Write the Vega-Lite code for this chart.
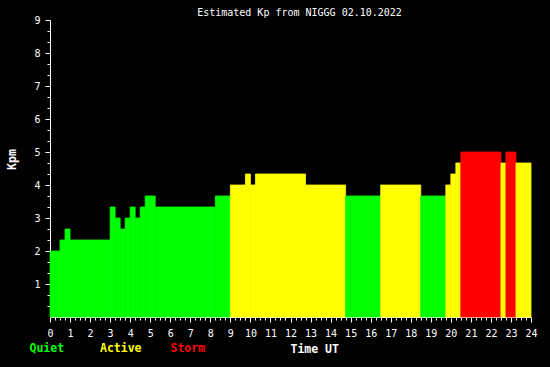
{
  "$schema": "https://vega.github.io/schema/vega-lite/v6.json",
  "autosize": {"type": "none"},
  "padding": {"left": 50, "top": 20, "right": 19, "bottom": 50},
  "width": 481,
  "height": 297,
  "background": "#000000",
  "config": {"view": {"stroke": null}},
  "title": {
    "text": "Estimated Kp from NIGGG 02.10.2022",
    "color": "#ffffff",
    "font": "DejaVu Sans Mono",
    "fontSize": 10,
    "fontWeight": "normal",
    "anchor": "middle",
    "frame": "group",
    "dx": 9,
    "dy": 5,
    "offset": -3,
    "baseline": "middle"
  },
  "data": {
    "values": [
      {"start": 0, "end": 0.5, "kp": 2.0, "level": "Quiet"},
      {"start": 0.5, "end": 0.75, "kp": 2.3333, "level": "Quiet"},
      {"start": 0.75, "end": 1.0, "kp": 2.6667, "level": "Quiet"},
      {"start": 1.0, "end": 3.0, "kp": 2.3333, "level": "Quiet"},
      {"start": 3.0, "end": 3.25, "kp": 3.3333, "level": "Quiet"},
      {"start": 3.25, "end": 3.5, "kp": 3.0, "level": "Quiet"},
      {"start": 3.5, "end": 3.75, "kp": 2.6667, "level": "Quiet"},
      {"start": 3.75, "end": 4.0, "kp": 3.0, "level": "Quiet"},
      {"start": 4.0, "end": 4.25, "kp": 3.3333, "level": "Quiet"},
      {"start": 4.25, "end": 4.5, "kp": 3.0, "level": "Quiet"},
      {"start": 4.5, "end": 4.75, "kp": 3.3333, "level": "Quiet"},
      {"start": 4.75, "end": 5.25, "kp": 3.6667, "level": "Quiet"},
      {"start": 5.25, "end": 8.25, "kp": 3.3333, "level": "Quiet"},
      {"start": 8.25, "end": 9.0, "kp": 3.6667, "level": "Quiet"},
      {"start": 9.0, "end": 9.75, "kp": 4.0, "level": "Active"},
      {"start": 9.75, "end": 10.0, "kp": 4.3333, "level": "Active"},
      {"start": 10.0, "end": 10.25, "kp": 4.0, "level": "Active"},
      {"start": 10.25, "end": 12.75, "kp": 4.3333, "level": "Active"},
      {"start": 12.75, "end": 14.75, "kp": 4.0, "level": "Active"},
      {"start": 14.75, "end": 16.5, "kp": 3.6667, "level": "Quiet"},
      {"start": 16.5, "end": 18.5, "kp": 4.0, "level": "Active"},
      {"start": 18.5, "end": 19.75, "kp": 3.6667, "level": "Quiet"},
      {"start": 19.75, "end": 20.0, "kp": 4.0, "level": "Active"},
      {"start": 20.0, "end": 20.25, "kp": 4.3333, "level": "Active"},
      {"start": 20.25, "end": 20.5, "kp": 4.6667, "level": "Active"},
      {"start": 20.5, "end": 22.5, "kp": 5.0, "level": "Storm"},
      {"start": 22.5, "end": 22.75, "kp": 4.6667, "level": "Active"},
      {"start": 22.75, "end": 23.25, "kp": 5.0, "level": "Storm"},
      {"start": 23.25, "end": 24.0, "kp": 4.6667, "level": "Active"}
    ]
  },
  "mark": {"type": "rect", "strokeWidth": 0.8},
  "encoding": {
    "x": {
      "field": "start",
      "type": "quantitative",
      "scale": {"domain": [0, 24], "nice": false, "zero": false},
      "axis": {
        "title": "Time UT",
        "titleColor": "#ffffff",
        "titleFont": "DejaVu Sans Mono",
        "titleFontSize": 11.5,
        "titleFontWeight": "bold",
        "titleAlign": "left",
        "titleBaseline": "middle",
        "titleX": 240,
        "titleY": 32,
        "values": [0,0.25,0.5,0.75,1,1.25,1.5,1.75,2,2.25,2.5,2.75,3,3.25,3.5,3.75,4,4.25,4.5,4.75,5,5.25,5.5,5.75,6,6.25,6.5,6.75,7,7.25,7.5,7.75,8,8.25,8.5,8.75,9,9.25,9.5,9.75,10,10.25,10.5,10.75,11,11.25,11.5,11.75,12,12.25,12.5,12.75,13,13.25,13.5,13.75,14,14.25,14.5,14.75,15,15.25,15.5,15.75,16,16.25,16.5,16.75,17,17.25,17.5,17.75,18,18.25,18.5,18.75,19,19.25,19.5,19.75,20,20.25,20.5,20.75,21,21.25,21.5,21.75,22,22.25,22.5,22.75,23,23.25,23.5,23.75,24],
        "labelExpr": "abs(datum.value - round(datum.value)) < 0.01 ? '' + round(datum.value) : ''",
        "labelFlush": false,
        "labelOverlap": false,
        "labelColor": "#ffffff",
        "labelFont": "DejaVu Sans Mono",
        "labelFontSize": 10,
        "labelPadding": 6,
        "domainColor": "#ffffff",
        "tickColor": "#ffffff",
        "tickSize": {"condition": {"test": "abs(datum.value - round(datum.value)) < 0.01", "value": 5}, "value": 3},
        "grid": false
      }
    },
    "x2": {"field": "end"},
    "y": {
      "field": "kp",
      "type": "quantitative",
      "scale": {"domain": [0, 9], "nice": false},
      "axis": {
        "title": "Kpm",
        "titleColor": "#ffffff",
        "titleFont": "DejaVu Sans Mono",
        "titleFontSize": 11.5,
        "titleFontWeight": "bold",
        "titleAlign": "center",
        "titleBaseline": "middle",
        "titleAngle": -90,
        "titleX": -38,
        "titleY": 139,
        "values": [0.3333,0.6667,1,1.3333,1.6667,2,2.3333,2.6667,3,3.3333,3.6667,4,4.3333,4.6667,5,5.3333,5.6667,6,6.3333,6.6667,7,7.3333,7.6667,8,8.3333,8.6667,9],
        "labelExpr": "abs(datum.value - round(datum.value)) < 0.01 ? '' + round(datum.value) : ''",
        "labelOverlap": false,
        "labelColor": "#ffffff",
        "labelFont": "DejaVu Sans Mono",
        "labelFontSize": 10,
        "labelPadding": 5,
        "domainColor": "#ffffff",
        "tickColor": "#ffffff",
        "tickSize": {"condition": {"test": "abs(datum.value - round(datum.value)) < 0.01", "value": 5}, "value": 3},
        "grid": false
      }
    },
    "y2": {"datum": 0},
    "stroke": {
      "field": "level",
      "type": "nominal",
      "scale": {"domain": ["Quiet", "Active", "Storm"], "range": ["#00ff00", "#ffff00", "#ff0000"]},
      "legend": null
    },
    "color": {
      "field": "level",
      "type": "nominal",
      "scale": {"domain": ["Quiet", "Active", "Storm"], "range": ["#00ff00", "#ffff00", "#ff0000"]},
      "legend": {
        "orient": "none",
        "legendX": -32,
        "legendY": 323,
        "direction": "horizontal",
        "columns": 3,
        "gridAlign": "all",
        "columnPadding": 16.5,
        "symbolSize": 0,
        "symbolOpacity": 0,
        "symbolStrokeWidth": 0,
        "labelOffset": 0,
        "labelFont": "DejaVu Sans Mono",
        "labelFontSize": 11.5,
        "labelFontWeight": "bold",
        "labelColor": {"expr": "datum.label == 'Quiet' ? '#00ff00' : datum.label == 'Active' ? '#ffff00' : '#ff0000'"},
        "title": null,
        "padding": 0
      }
    }
  }
}
